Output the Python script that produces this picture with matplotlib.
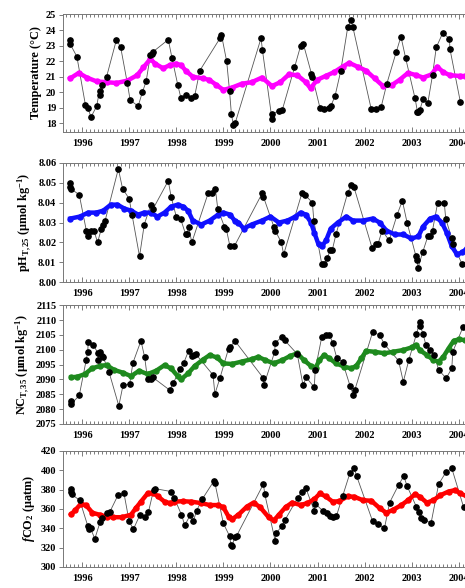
import matplotlib.pyplot as plt
from matplotlib.ticker import MultipleLocator, FixedLocator

plt.rcParams['font.family'] = ['Liberation Serif', 'DejaVu Serif']
plt.rcParams['font.weight'] = 'bold'
plt.rcParams['mathtext.fontset'] = 'custom'
plt.rcParams['mathtext.rm'] = 'Liberation Serif:bold'
plt.rcParams['mathtext.it'] = 'Liberation Serif:bold:italic'

years = [1996, 1997, 1998, 1999, 2000, 2001, 2002, 2003, 2004]

# temperature, black = measured, magenta = smoothed
temp_t = [1995.75, 1995.75, 1995.89, 1996.07, 1996.12, 1996.19, 1996.31, 1996.37, 1996.39,
          1996.43, 1996.52, 1996.73, 1996.82, 1996.96, 1997.02, 1997.19, 1997.28, 1997.36,
          1997.45, 1997.48, 1997.50, 1997.83, 1997.91, 1998.03, 1998.10, 1998.21, 1998.32,
          1998.39, 1998.50, 1998.93, 1998.96, 1999.07, 1999.13, 1999.17, 1999.21, 1999.25,
          1999.80, 1999.83, 2000.03, 2000.04, 2000.18, 2000.25, 2000.51, 2000.64, 2000.70,
          2000.87, 2000.89, 2001.05, 2001.14, 2001.25, 2001.28, 2001.37, 2001.49, 2001.64,
          2001.71, 2001.75, 2002.14, 2002.24, 2002.35, 2002.47, 2002.67, 2002.77, 2002.87,
          2003.07, 2003.12, 2003.14, 2003.17, 2003.24, 2003.34, 2003.44, 2003.52, 2003.66,
          2003.80, 2003.81, 2004.03]
temp_v = [23.4, 23.1, 22.3, 19.2, 19.0, 18.4, 19.1, 20.1, 19.8,
          20.5, 21.0, 23.4, 22.9, 20.6, 19.5, 19.1, 20.0, 20.7,
          22.4, 22.5, 22.6, 23.4, 22.2, 20.5, 19.6, 19.8, 19.6,
          19.75, 21.4, 23.5, 23.7, 22.0, 20.1, 18.6, 17.9, 18.0,
          23.5, 22.7, 18.3, 18.6, 18.8, 18.85, 21.6, 23.0, 23.1,
          21.2, 21.0, 19.0, 18.95, 19.0, 19.1, 19.75, 21.35, 24.2,
          24.65, 24.2, 18.9, 18.9, 19.05, 20.55, 22.6, 23.6, 22.2,
          19.6, 18.75, 18.7, 18.85, 19.55, 19.3, 21.1, 22.9, 23.85,
          23.45, 22.8, 19.4]
temp_st = [1995.75, 1995.93, 1996.10, 1996.31, 1996.52, 1996.73, 1996.96, 1997.17, 1997.30,
           1997.45, 1997.55, 1997.72, 1997.86, 1998.00, 1998.10, 1998.20, 1998.35, 1998.56,
           1998.70, 1998.84, 1999.00, 1999.18, 1999.39, 1999.60, 1999.82, 2000.03, 2000.21,
           2000.39, 2000.57, 2000.75, 2000.85, 2000.99, 2001.17, 2001.35, 2001.53, 2001.67,
           2001.85, 2002.03, 2002.21, 2002.39, 2002.57, 2002.74, 2002.92, 2003.10, 2003.24,
           2003.42, 2003.54, 2003.67, 2003.81, 2004.03, 2004.13]
temp_sv = [20.9, 21.25, 20.95, 20.7, 20.65, 20.6, 20.75, 21.1, 21.6,
           22.15, 21.85, 21.55, 21.75, 21.85, 21.75, 21.4, 21.0, 20.9,
           20.8, 20.5, 20.15, 20.3, 20.55, 20.65, 20.95, 20.4, 20.65,
           21.15, 21.1, 20.65, 20.25, 20.8, 21.05, 21.3, 21.65, 21.9,
           21.65, 21.4, 20.9, 20.4, 20.45, 20.8, 21.25, 21.1, 20.95,
           21.15, 21.65, 21.3, 21.1, 21.05, 21.05]

# pH
ph_t = [1995.75, 1995.75, 1995.76, 1995.94, 1996.09, 1996.12, 1996.18, 1996.25, 1996.33,
        1996.41, 1996.44, 1996.49, 1996.77, 1996.86, 1997.00, 1997.06, 1997.22, 1997.32,
        1997.46, 1997.51, 1997.83, 1997.89, 1998.00, 1998.09, 1998.20, 1998.23, 1998.26,
        1998.33, 1998.68, 1998.75, 1998.83, 1998.88, 1999.02, 1999.06, 1999.14, 1999.23,
        1999.83, 1999.85, 2000.07, 2000.10, 2000.23, 2000.28, 2000.67, 2000.73, 2000.89,
        2000.92, 2001.09, 2001.14, 2001.21, 2001.26, 2001.31, 2001.39, 2001.64, 2001.72,
        2001.77, 2002.16, 2002.24, 2002.28, 2002.37, 2002.52, 2002.69, 2002.80, 2002.90,
        2003.09, 2003.12, 2003.13, 2003.23, 2003.34, 2003.38, 2003.44, 2003.55, 2003.69,
        2003.72, 2003.85, 2003.88, 2004.07]
ph_v = [8.050, 8.048, 8.047, 8.044, 8.026, 8.023, 8.026, 8.026, 8.020,
        8.027, 8.029, 8.031, 8.057, 8.047, 8.042, 8.034, 8.013, 8.029,
        8.039, 8.037, 8.051, 8.043, 8.033, 8.032, 8.024, 8.024, 8.028,
        8.020, 8.045, 8.045, 8.047, 8.037, 8.028, 8.027, 8.018, 8.018,
        8.045, 8.043, 8.028, 8.026, 8.020, 8.014, 8.045, 8.044, 8.040,
        8.031, 8.009, 8.009, 8.012, 8.016, 8.016, 8.024, 8.045, 8.049,
        8.048, 8.017, 8.019, 8.019, 8.026, 8.021, 8.034, 8.041, 8.030,
        8.013, 8.011, 8.007, 8.015, 8.023, 8.023, 8.026, 8.040, 8.040,
        8.032, 8.022, 8.019, 8.009]
ph_st = [1995.75, 1995.95, 1996.13, 1996.30, 1996.45, 1996.61, 1996.75, 1996.90, 1997.04,
         1997.19, 1997.32, 1997.46, 1997.60, 1997.75, 1997.89, 1998.03, 1998.15, 1998.25,
         1998.35, 1998.53, 1998.71, 1998.89, 1999.00, 1999.14, 1999.24, 1999.32, 1999.43,
         1999.60, 1999.82, 2000.00, 2000.18, 2000.36, 2000.53, 2000.64, 2000.75, 2000.86,
         2000.93, 2001.02, 2001.09, 2001.18, 2001.28, 2001.43, 2001.61, 2001.75, 2001.96,
         2002.17, 2002.32, 2002.46, 2002.64, 2002.82, 2002.99, 2003.14, 2003.24, 2003.39,
         2003.51, 2003.64, 2003.74, 2003.85, 2003.96, 2004.07, 2004.17]
ph_sv = [8.032, 8.033, 8.035, 8.035, 8.036, 8.039, 8.039, 8.037, 8.036,
         8.034, 8.035, 8.035, 8.033, 8.035, 8.038, 8.039, 8.038, 8.036,
         8.031, 8.029, 8.031, 8.034, 8.035, 8.034, 8.031, 8.030, 8.027,
         8.029, 8.031, 8.033, 8.030, 8.031, 8.033, 8.035, 8.034, 8.030,
         8.025, 8.019, 8.018, 8.021, 8.027, 8.030, 8.033, 8.031, 8.031,
         8.032, 8.030, 8.026, 8.024, 8.024, 8.022, 8.023, 8.028, 8.032,
         8.033, 8.030, 8.025, 8.018, 8.014, 8.015, 8.017]

# NC_T,35
nc_t = [1995.77, 1995.77, 1995.94, 1996.09, 1996.12, 1996.13, 1996.24, 1996.33, 1996.34,
        1996.37, 1996.42, 1996.45, 1996.57, 1996.78, 1996.87, 1997.01, 1997.08, 1997.25,
        1997.33, 1997.39, 1997.46, 1997.50, 1997.86, 1997.94, 1998.08, 1998.16, 1998.26,
        1998.33, 1998.37, 1998.41, 1998.78, 1998.82, 1998.93, 1999.11, 1999.14, 1999.25,
        1999.85, 1999.86, 2000.09, 2000.10, 2000.25, 2000.30, 2000.57, 2000.69, 2000.76,
        2000.93, 2000.95, 2001.09, 2001.17, 2001.25, 2001.32, 2001.41, 2001.53, 2001.69,
        2001.76, 2001.79, 2002.17, 2002.32, 2002.42, 2002.72, 2002.82, 2002.94, 2003.10,
        2003.17, 2003.18, 2003.24, 2003.30, 2003.39, 2003.48, 2003.57, 2003.73, 2003.85,
        2003.87, 2004.09]
nc_v = [2082.8, 2081.7, 2084.6, 2096.7, 2099.3, 2102.5, 2101.6, 2099.0, 2096.7,
        2099.1, 2097.9, 2097.4, 2092.6, 2081.1, 2088.1, 2088.4, 2095.6, 2103.0,
        2097.4, 2090.0, 2090.0, 2090.7, 2086.4, 2088.9, 2093.4, 2095.6, 2099.6,
        2097.9, 2098.2, 2098.6, 2091.5, 2085.1, 2090.6, 2100.4, 2101.0, 2102.9,
        2090.4, 2088.1, 2099.3, 2102.3, 2104.4, 2103.2, 2098.5, 2088.1, 2090.7,
        2087.3, 2093.2, 2104.4, 2104.9, 2105.1, 2102.3, 2097.1, 2095.9, 2087.8,
        2084.7, 2086.4, 2106.0, 2104.9, 2101.8, 2096.3, 2089.2, 2096.7, 2105.3,
        2109.4, 2108.0, 2105.3, 2101.6, 2099.9, 2098.2, 2093.2, 2090.4, 2093.7,
        2099.3, 2107.7]
nc_st = [1995.77, 1995.90, 1996.06, 1996.21, 1996.39, 1996.52, 1996.68, 1996.86, 1997.04,
         1997.21, 1997.39, 1997.57, 1997.75, 1997.89, 1998.03, 1998.10, 1998.25, 1998.39,
         1998.57, 1998.71, 1998.86, 1999.00, 1999.18, 1999.39, 1999.60, 1999.74, 1999.89,
         2000.07, 2000.25, 2000.42, 2000.57, 2000.71, 2000.86, 2000.96, 2001.04, 2001.14,
         2001.25, 2001.39, 2001.57, 2001.71, 2001.82, 2001.93, 2002.03, 2002.21, 2002.42,
         2002.60, 2002.82, 2003.00, 2003.09, 2003.17, 2003.32, 2003.46, 2003.57, 2003.67,
         2003.78, 2003.89, 2004.00, 2004.14]
nc_sv = [2090.7, 2090.9, 2091.8, 2093.7, 2094.6, 2094.8, 2093.2, 2092.3, 2091.1,
         2092.9, 2091.8, 2092.9, 2094.8, 2093.7, 2091.1, 2090.0, 2092.0, 2094.5,
         2096.7, 2098.2, 2097.4, 2095.4, 2095.2, 2096.0, 2096.8, 2097.6, 2096.5,
         2095.4, 2096.5, 2097.9, 2098.8, 2096.5, 2094.5, 2094.0, 2096.5, 2098.2,
         2097.1, 2095.4, 2094.3, 2093.7, 2094.5, 2097.1, 2099.6, 2099.3, 2098.8,
         2099.3, 2099.9, 2100.8, 2101.6, 2099.9, 2098.2, 2096.5, 2096.0, 2097.6,
         2100.4, 2103.0, 2103.5, 2103.2]

# fCO2
fco2_t = [1995.77, 1995.77, 1995.78, 1995.95, 1996.12, 1996.14, 1996.18, 1996.27, 1996.38,
          1996.43, 1996.52, 1996.59, 1996.76, 1996.89, 1997.00, 1997.09, 1997.23, 1997.33,
          1997.41, 1997.52, 1997.55, 1997.89, 1997.96, 1998.11, 1998.18, 1998.30, 1998.36,
          1998.43, 1998.55, 1998.80, 1998.82, 1999.00, 1999.13, 1999.16, 1999.19, 1999.24,
          1999.28, 1999.85, 1999.88, 2000.10, 2000.12, 2000.25, 2000.31, 2000.58, 2000.67,
          2000.75, 2000.93, 2000.95, 2001.12, 2001.19, 2001.26, 2001.32, 2001.40, 2001.53,
          2001.69, 2001.78, 2001.83, 2002.17, 2002.28, 2002.42, 2002.53, 2002.72, 2002.83,
          2002.90, 2003.10, 2003.15, 2003.20, 2003.25, 2003.41, 2003.57, 2003.73, 2003.85,
          2004.10]
fco2_v = [381, 378, 375, 369, 342.5, 339.7, 340, 329, 346,
          350.4, 356, 357, 374, 376, 347, 339, 354, 352,
          357, 380, 381, 378, 371, 354, 343, 354, 347,
          358, 370, 389, 387, 345, 332, 323, 322, 331,
          332, 385.7, 375, 327, 335, 342.5, 348.7, 371.7, 378,
          381.6, 358, 365.5, 357.6, 355.9, 353, 352, 352.6, 373,
          397.6, 402, 394, 347, 344.6, 340, 366.6, 384.8, 394,
          383.8, 361.9, 356.4, 350.4, 349, 345.4, 385.7, 398.4, 402,
          361.9]
fco2_st = [1995.77, 1995.86, 1995.97, 1996.08, 1996.22, 1996.37, 1996.52, 1996.66, 1996.84,
           1997.04, 1997.14, 1997.25, 1997.39, 1997.50, 1997.61, 1997.75, 1997.86, 1997.96,
           1998.14, 1998.32, 1998.53, 1998.71, 1998.89, 1999.00, 1999.11, 1999.19, 1999.32,
           1999.50, 1999.64, 1999.78, 1999.96, 2000.07, 2000.18, 2000.32, 2000.46, 2000.64,
           2000.78, 2000.93, 2001.05, 2001.17, 2001.32, 2001.46, 2001.64, 2001.78, 2001.96,
           2002.14, 2002.32, 2002.46, 2002.60, 2002.78, 2002.92, 2003.07, 2003.17, 2003.32,
           2003.46, 2003.60, 2003.78, 2003.92, 2004.03, 2004.17]
fco2_sv = [354.5, 359, 365, 364, 356, 354, 352, 351.4, 351.4,
           354, 360.7, 367.5, 376, 377, 373, 367.5, 366, 367.5,
           368, 367.5, 366, 364, 364, 361.7, 352, 349.5, 354,
           362.4, 366.5, 361.8, 351.4, 348, 354, 361.8, 366.5, 364,
           366, 370, 376, 373, 367.5, 368, 373, 372.6, 369,
           368.5, 360.7, 356, 359, 364, 369, 375.3, 372.6, 366.5,
           369, 374, 378, 379.5, 376, 373]

panels = [
    (temp_t, temp_v, temp_st, temp_sv, '#ff00ff', (17.45, 25.05), [18, 19, 20, 21, 22, 23, 24, 25],
     '%d', 'Temperature (°C)'),
    (ph_t, ph_v, ph_st, ph_sv, '#1010ff', (8.0, 8.06), [8.00, 8.01, 8.02, 8.03, 8.04, 8.05, 8.06],
     '%.2f', r'pH$_{\mathrm{T,25}}$ ($\mathrm{\mu}$mol kg$^{-1}$)'),
    (nc_t, nc_v, nc_st, nc_sv, '#1e8a1e', (2075, 2115), list(range(2075, 2120, 5)),
     '%d', r'NC$_{\mathrm{T,35}}$ ($\mathrm{\mu}$mol kg$^{-1}$)'),
    (fco2_t, fco2_v, fco2_st, fco2_sv, '#ff0000', (300, 420), list(range(300, 440, 20)),
     '%d', r'$f$CO$_2$ ($\mathrm{\mu}$atm)'),
]

boxes = [(0.776, 0.976), (0.520, 0.723), (0.279, 0.481), (0.036, 0.233)]

fig = plt.figure(figsize=(4.65, 5.88), dpi=100)
for (t, v, st, sv, col, ylim, yt, fmt, ylab), (b, tp) in zip(panels, boxes):
    ax = fig.add_axes([0.136, b, 1.0 - 0.136, tp - b])
    ax.plot(t, v, color='#555555', lw=0.6, zorder=2)
    ax.plot(st, sv, color=col, lw=3.2, marker='o', ms=3.6, mec=col, zorder=3)
    ax.plot(t, v, 'o', color='black', ms=3.8, zorder=4)
    ax.set_xlim(1995.60, 2004.13)
    ax.set_ylim(*ylim)
    ax.set_yticks(yt)
    ax.set_yticklabels([fmt % y for y in yt])
    ax.xaxis.set_major_locator(FixedLocator(years))
    ax.xaxis.set_minor_locator(MultipleLocator(1 / 12))
    ax.set_xticklabels([str(y) for y in years])
    ax.spines['right'].set_visible(False)
    for s in ('top', 'bottom', 'left'):
        ax.spines[s].set_color('#777777')
        ax.spines[s].set_linewidth(0.7)
    ax.tick_params(axis='x', which='both', top=True, bottom=True, direction='in',
                   color='#666666', width=0.6)
    ax.tick_params(axis='x', which='major', length=3.5, labelsize=7.5, pad=5)
    ax.tick_params(axis='x', which='minor', length=2.5)
    ax.tick_params(axis='y', length=3, width=0.6, color='#666666', labelsize=7.5, pad=2)
    ax.set_ylabel(ylab, fontsize=8.8, fontweight='bold', labelpad=3)

fig.savefig('out.png', dpi=100)
